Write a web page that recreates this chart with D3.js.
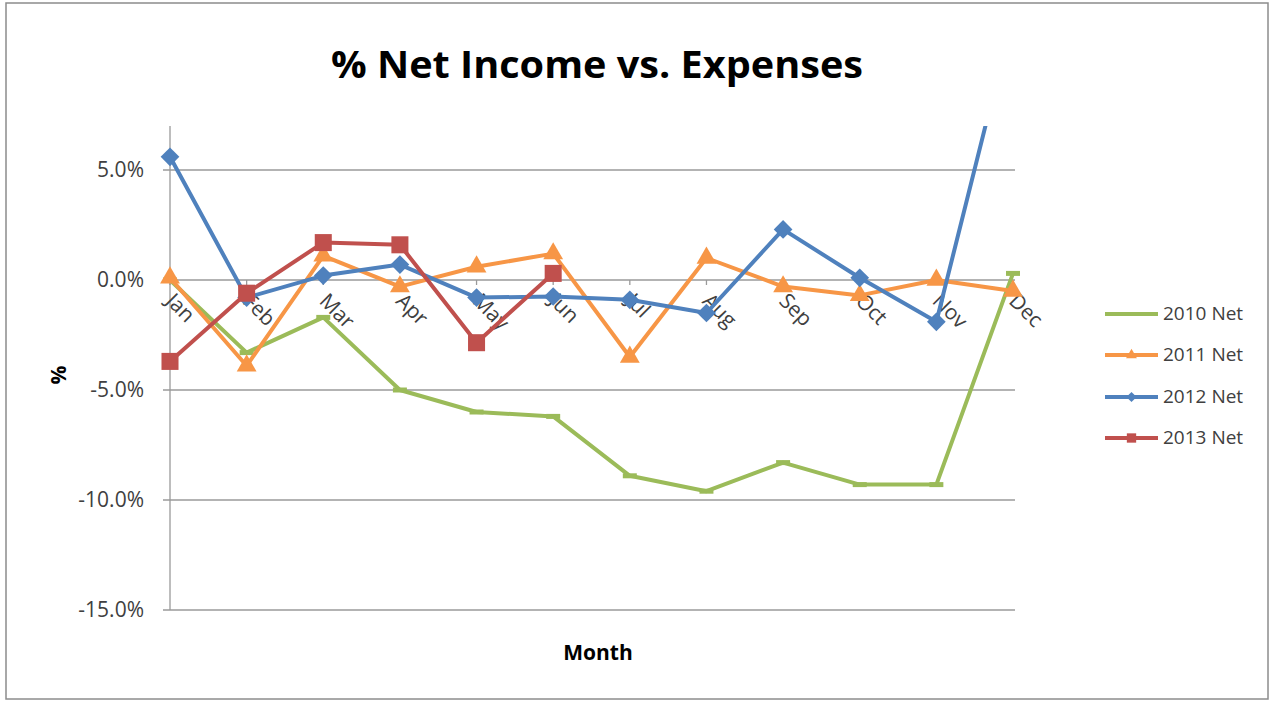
<!DOCTYPE html>
<html>
<head>
<meta charset="utf-8">
<script src="https://cdnjs.cloudflare.com/ajax/libs/d3/7.8.5/d3.min.js"></script>
<style>
  body { margin: 0; background: #fff; }
  svg { display: block; font-family: "Open Sans", "Liberation Sans", sans-serif; }
</style>
</head>
<body>
<svg id="chart" width="1271" height="702"></svg>
<script>
// data (% values)
var months = ["Jan","Feb","Mar","Apr","May","Jun","Jul","Aug","Sep","Oct","Nov","Dec"];
var net2010 = [0.0, -3.3, -1.7, -5.0, -6.0, -6.2, -8.9, -9.6, -8.3, -9.3, -9.3, 0.3];
var net2011 = [0.1, -3.9, 1.1, -0.3, 0.6, 1.2, -3.5, 1.0, -0.3, -0.7, 0.0, -0.5];
var net2012 = [5.6, -0.8, 0.2, 0.7, -0.8, -0.75, -0.9, -1.5, 2.3, 0.1, -1.9, 12.0];
var net2013 = [-3.7, -0.6, 1.7, 1.6, -2.85, 0.3, null, null, null, null, null, null];
var yTicks = [5, 0, -5, -10, -15];

var series = [
  {name: "2010 Net", values: net2010, color: "#9bbb59", marker: "dash"},
  {name: "2011 Net", values: net2011, color: "#f79646", marker: "triangle"},
  {name: "2012 Net", values: net2012, color: "#4f81bd", marker: "diamond"},
  {name: "2013 Net", values: net2013, color: "#c0504d", marker: "square"}
];

var svg = d3.select("#chart");

// outer chart border
svg.append("rect")
  .attr("x", 6).attr("y", 3).attr("width", 1262).attr("height", 696)
  .attr("fill", "#fff").attr("stroke", "#8c8c8c").attr("stroke-width", 1.5);

var x = d3.scalePoint().domain(months).range([170, 1013]);
var y = d3.scaleLinear().domain([-15, 7]).range([610, 126]);

// title
svg.append("text")
  .attr("x", 597).attr("y", 78)
  .attr("text-anchor", "middle")
  .attr("font-size", 38).attr("font-weight", "bold")
  .attr("textLength", 532).attr("lengthAdjust", "spacingAndGlyphs")
  .attr("fill", "#000")
  .text("% Net Income vs. Expenses");

// gridlines + y ticks
svg.append("g").selectAll("line")
  .data(yTicks)
  .enter().append("line")
    .attr("x1", 163).attr("x2", 1015)
    .attr("y1", function(d) { return y(d); })
    .attr("y2", function(d) { return y(d); })
    .attr("stroke", "#9a9a9a").attr("stroke-width", 1.3);

// y axis line
svg.append("line")
  .attr("x1", 170).attr("x2", 170).attr("y1", 126).attr("y2", 610)
  .attr("stroke", "#9a9a9a").attr("stroke-width", 1.3);

// category tick marks on the zero line
svg.append("g").selectAll("line")
  .data(months)
  .enter().append("line")
    .attr("x1", function(d) { return x(d); })
    .attr("x2", function(d) { return x(d); })
    .attr("y1", y(0)).attr("y2", y(0) + 5)
    .attr("stroke", "#9a9a9a").attr("stroke-width", 1.3);

// y tick labels (plain hyphen minus like Excel)
svg.append("g").selectAll("text")
  .data(yTicks)
  .enter().append("text")
    .attr("x", 144)
    .attr("y", function(d) { return y(d) + 7; })
    .attr("text-anchor", "end")
    .attr("font-size", 21)
    .attr("fill", "#404040")
    .text(function(d) { return d.toFixed(1) + "%"; });

// x tick labels, rotated
svg.append("g").selectAll("text")
  .data(months)
  .enter().append("text")
    .attr("transform", function(d) { return "translate(" + (x(d) + 6) + "," + (y(0) + 11) + ") rotate(45)"; })
    .attr("dy", "0.75em")
    .attr("font-size", 21)
    .attr("fill", "#404040")
    .text(function(d) { return d; });

// axis titles
svg.append("text")
  .attr("transform", "translate(66,375) rotate(-90)")
  .attr("text-anchor", "middle")
  .attr("font-size", 21).attr("font-weight", "bold")
  .attr("fill", "#000")
  .text("%");

svg.append("text")
  .attr("x", 598).attr("y", 660)
  .attr("text-anchor", "middle")
  .attr("font-size", 21).attr("font-weight", "bold")
  .attr("fill", "#000")
  .text("Month");

// clip to plot area (2012 Dec runs off the top)
svg.append("clipPath").attr("id", "plotclip")
  .append("rect").attr("x", 150).attr("y", 126).attr("width", 900).attr("height", 500);

function markerPath(type, s) {
  if (type == "triangle") return d3.symbol().type(d3.symbolTriangle).size(170 * s)();
  if (type == "square") return d3.symbol().type(d3.symbolSquare).size(290 * s)();
  if (type == "diamond") return d3.symbol().type(d3.symbolSquare).size(175 * s)();
  return "M-7,-2.5H7V2.5H-7Z"; // dash
}

var line = d3.line()
  .defined(function(d) { return d.v != null; })
  .x(function(d) { return x(d.m); })
  .y(function(d) { return y(d.v); });

var plot = svg.append("g").attr("clip-path", "url(#plotclip)");

series.forEach(function(s) {
  var pts = months.map(function(m, i) { return {m: m, v: s.values[i]}; });
  var g = plot.append("g");
  g.append("path")
    .attr("d", line(pts))
    .attr("fill", "none")
    .attr("stroke", s.color)
    .attr("stroke-width", 4)
    .attr("stroke-linejoin", "round");
  g.selectAll("path.mk")
    .data(pts.filter(function(d) { return d.v != null; }))
    .enter().append("path")
      .attr("class", "mk")
      .attr("d", markerPath(s.marker, 1))
      .attr("transform", function(d) {
        var r = s.marker == "diamond" ? " rotate(45)" : "";
        return "translate(" + x(d.m) + "," + y(d.v) + ")" + r;
      })
      .attr("fill", s.color);
});

// legend
var legend = svg.append("g").selectAll("g")
  .data(series)
  .enter().append("g")
    .attr("transform", function(d, i) { return "translate(1105," + [314, 355, 397, 438][i] + ")"; });

legend.append("line")
  .attr("x1", 0).attr("x2", 53).attr("y1", 0).attr("y2", 0)
  .attr("stroke", function(d) { return d.color; })
  .attr("stroke-width", 4);

legend.append("path")
  .attr("d", function(d) { return d.marker == "dash" ? "" : markerPath(d.marker, 0.3); })
  .attr("transform", function(d) { return "translate(26.5,0)" + (d.marker == "diamond" ? " rotate(45)" : ""); })
  .attr("fill", function(d) { return d.color; });

legend.append("text")
  .attr("x", 58).attr("y", 6)
  .attr("font-size", 19)
  .attr("fill", "#404040")
  .text(function(d) { return d.name; });
</script>
</body>
</html>
